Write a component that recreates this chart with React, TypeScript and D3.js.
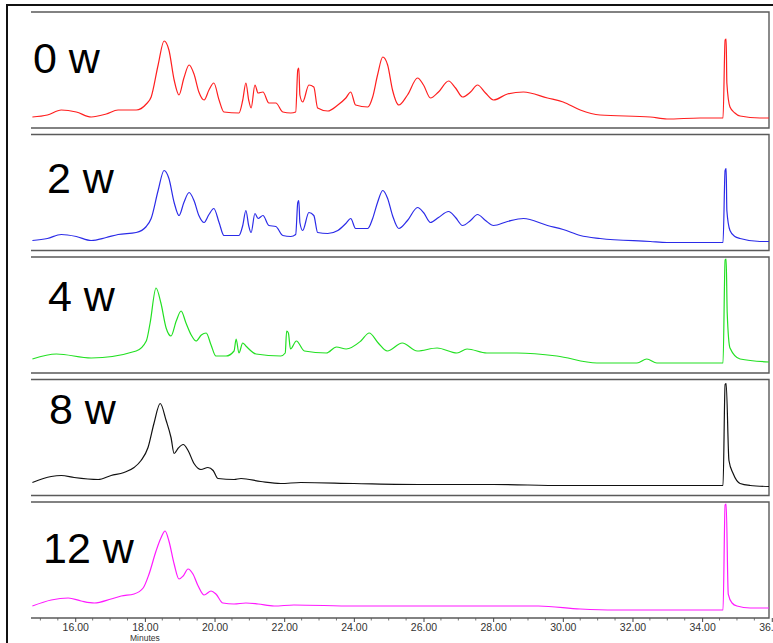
import React, { useEffect, useRef } from 'react';
import * as d3 from 'd3';

type Pt = [number, number];

// retention time (min), detector response (arbitrary units)
const week0: Pt[] = [
  [14.77, 11], [15.2, 13], [15.6, 18], [16.03, 16], [16.46, 11], [16.89, 14], [17.23, 18], [17.75, 18],
  [18.04, 24], [18.18, 31], [18.38, 63], [18.55, 87], [18.69, 78], [18.84, 48], [18.98, 33], [19.12, 50],
  [19.27, 63], [19.41, 54], [19.55, 36], [19.7, 28], [19.84, 38], [19.98, 45], [20.13, 28], [20.27, 16],
  [20.7, 15], [20.81, 28], [20.9, 45], [20.98, 28], [21.05, 20], [21.16, 43], [21.25, 35], [21.39, 36],
  [21.56, 25], [21.76, 25], [21.96, 16], [22.19, 15], [22.33, 16], [22.39, 58], [22.42, 60], [22.45, 33],
  [22.53, 26], [22.71, 43], [22.85, 41], [22.96, 20], [23.25, 17], [23.54, 23], [23.77, 30], [23.91, 36],
  [24.05, 23], [24.4, 21], [24.54, 31], [24.68, 53], [24.83, 71], [24.97, 63], [25.11, 38], [25.29, 23],
  [25.54, 33], [25.83, 50], [26.0, 43], [26.2, 30], [26.43, 36], [26.72, 47], [26.92, 40], [27.12, 31],
  [27.35, 36], [27.55, 43], [27.78, 35], [28.01, 28], [28.41, 34], [28.87, 36], [29.56, 30], [30.01, 26],
  [30.5, 18], [31.07, 13], [32.51, 11], [32.99, 9], [33.94, 10], [34.6, 10], [34.66, 88], [34.69, 89],
  [34.71, 45], [34.8, 21], [34.94, 15], [35.09, 12], [35.66, 10], [35.92, 10],
];

const week2: Pt[] = [
  [14.77, 10], [15.2, 12], [15.6, 16], [16.03, 14], [16.46, 10], [16.89, 13], [17.23, 16], [17.75, 18],
  [18.04, 24], [18.18, 32], [18.38, 60], [18.55, 80], [18.69, 72], [18.84, 48], [18.98, 35], [19.12, 48],
  [19.27, 58], [19.41, 50], [19.55, 35], [19.7, 28], [19.84, 36], [19.98, 42], [20.13, 28], [20.27, 15],
  [20.7, 15], [20.81, 25], [20.9, 40], [20.98, 25], [21.05, 18], [21.16, 37], [21.25, 32], [21.39, 35],
  [21.56, 25], [21.76, 24], [21.96, 15], [22.19, 14], [22.33, 16], [22.39, 48], [22.42, 50], [22.45, 28],
  [22.53, 20], [22.71, 38], [22.85, 35], [22.96, 18], [23.25, 17], [23.54, 20], [23.77, 27], [23.91, 32],
  [24.05, 22], [24.4, 22], [24.54, 32], [24.68, 48], [24.83, 60], [24.97, 52], [25.11, 35], [25.29, 22],
  [25.54, 30], [25.83, 43], [26.0, 38], [26.2, 28], [26.43, 33], [26.72, 39], [26.92, 33], [27.12, 25],
  [27.35, 30], [27.55, 36], [27.78, 30], [28.01, 25], [28.41, 29], [28.87, 32], [29.56, 25], [30.01, 21],
  [30.5, 15], [31.07, 12], [32.51, 9], [32.99, 8], [33.94, 8], [34.6, 8], [34.66, 80], [34.69, 82],
  [34.71, 40], [34.8, 20], [34.94, 14], [35.09, 12], [35.66, 9], [35.92, 9],
];

const week4: Pt[] = [
  [14.77, 14], [15.46, 19], [16.46, 15], [17.75, 22], [18.04, 32], [18.15, 50], [18.32, 85], [18.46, 70],
  [18.61, 45], [18.75, 37], [18.9, 52], [19.04, 62], [19.18, 50], [19.33, 38], [19.47, 32], [19.62, 38],
  [19.76, 40], [19.9, 28], [20.04, 17], [20.33, 17], [20.56, 22], [20.62, 34], [20.7, 20], [20.81, 30],
  [20.9, 27], [21.19, 19], [21.9, 17], [22.03, 20], [22.07, 42], [22.12, 40], [22.18, 24], [22.35, 32],
  [22.58, 22], [23.21, 20], [23.5, 26], [23.78, 24], [24.2, 32], [24.44, 40], [24.7, 30], [24.96, 22],
  [25.39, 30], [25.82, 22], [26.39, 25], [26.96, 20], [27.25, 24], [27.82, 20], [28.68, 20], [29.83, 17],
  [30.98, 10], [32.13, 10], [32.41, 14], [32.7, 10], [34.6, 10], [34.66, 113], [34.69, 114], [34.72, 60],
  [34.8, 25], [35.09, 14], [35.92, 11],
];

const week8: Pt[] = [
  [14.77, 13], [15.31, 19], [15.6, 20], [15.97, 18], [16.66, 16], [17.03, 20], [17.4, 23], [17.69, 28],
  [17.89, 35], [18.09, 48], [18.26, 72], [18.44, 92], [18.61, 75], [18.75, 58], [18.84, 42], [18.95, 47],
  [19.1, 51], [19.24, 45], [19.41, 32], [19.61, 26], [19.81, 28], [19.96, 25], [20.1, 17], [20.56, 16],
  [20.76, 17], [21.33, 14], [21.9, 12], [22.48, 13], [24.0, 12], [26.0, 11], [28.0, 11], [30.0, 10],
  [32.0, 10], [34.6, 10], [34.66, 111], [34.69, 112], [34.77, 35], [34.89, 22], [35.09, 12], [35.38, 10],
  [35.92, 9],
];

const week12: Pt[] = [
  [14.77, 12], [15.31, 18], [15.8, 20], [16.17, 17], [16.55, 15], [17.03, 19], [17.32, 22], [17.69, 24],
  [17.95, 30], [18.12, 44], [18.32, 67], [18.46, 80], [18.58, 87], [18.69, 77], [18.84, 54], [18.98, 39],
  [19.1, 42], [19.24, 49], [19.38, 44], [19.53, 32], [19.7, 23], [19.9, 27], [20.04, 24], [20.24, 15],
  [20.56, 14], [20.9, 15], [21.25, 14], [21.71, 12], [22.28, 13], [24.0, 12], [26.0, 12], [28.0, 12],
  [29.3, 12], [30.5, 9], [31.5, 8], [33.0, 8], [34.6, 8], [34.66, 113], [34.69, 114], [34.75, 24],
  [34.86, 15], [35.0, 12], [35.38, 10], [35.92, 10],
];

const traces = [week0, week2, week4, week8, week12];
const sampleLabels = ['0 w', '2 w', '4 w', '8 w', '12 w'];
const traceColors = ['#ff1f1f', '#2b2be8', '#22e022', '#111111', '#ff1aff'];
const tickValues = [16, 18, 20, 22, 24, 26, 28, 30, 32, 34, 36];

// label placement inside each panel
const labelX = [33, 47, 48, 49, 43];
const labelDy = [61, 58, 54, 44, 61];

const App = () => {
  const ref = useRef<SVGSVGElement>(null);

  useEffect(() => {
    const svg = d3.select(ref.current);
    svg.selectAll('*').remove();

    const left = 31;
    const right = 769;
    const panelTop = 12;
    const panelStep = 122.5;
    const panelH = 116;

    const x = d3.scaleLinear().domain([14.73, 35.92]).range([left, right]);

    // outer frame
    svg.append('rect')
      .attr('x', 7).attr('y', 5)
      .attr('width', 800).attr('height', 700)
      .attr('fill', 'none')
      .attr('stroke', '#111')
      .attr('stroke-width', 2);

    traces.forEach((data, i) => {
      const top = panelTop + i * panelStep;
      const bottom = top + panelH;
      const y = d3.scaleLinear().domain([0, panelH]).range([bottom, top]);
      const g = svg.append('g');

      g.append('clipPath').attr('id', `clip${i}`)
        .append('rect')
        .attr('x', left).attr('y', top)
        .attr('width', right - left).attr('height', panelH);

      // panel border: top, right, bottom
      g.append('path')
        .attr('d', `M${left},${top}H${right}V${bottom}H${left}`)
        .attr('fill', 'none')
        .attr('stroke', '#5a5a5a')
        .attr('stroke-width', 1.4);

      const line = d3.line<Pt>()
        .x(d => x(d[0]))
        .y(d => y(d[1]))
        .curve(d3.curveMonotoneX);

      g.append('path')
        .attr('d', line(data))
        .attr('clip-path', `url(#clip${i})`)
        .attr('fill', 'none')
        .attr('stroke', traceColors[i])
        .attr('stroke-width', 1.2);

      g.append('text')
        .attr('x', labelX[i])
        .attr('y', top + labelDy[i])
        .attr('font-family', '"Liberation Sans", Arial, sans-serif')
        .attr('font-size', 43)
        .attr('fill', '#000')
        .text(sampleLabels[i]);
    });

    const axisY = panelTop + 4 * panelStep + panelH;

    // minor ticks
    const minor = d3.range(15, 36, 0.5).filter(v => v % 2 !== 0);
    svg.append('g')
      .selectAll('line')
      .data(minor)
      .enter()
      .append('line')
      .attr('x1', d => x(d)).attr('x2', d => x(d))
      .attr('y1', axisY).attr('y2', axisY + 2.5)
      .attr('stroke', '#555')
      .attr('stroke-width', 0.8);

    const axis = svg.append('g')
      .attr('transform', `translate(0,${axisY})`)
      .call(d3.axisBottom(x).tickValues(tickValues).tickFormat(d3.format('.2f')).tickSize(4).tickPadding(2));
    axis.select('.domain').remove();
    axis.selectAll('line').attr('stroke', '#444');
    axis.selectAll('text')
      .attr('font-family', '"Liberation Sans", Arial, sans-serif')
      .attr('font-size', 10.5)
      .attr('fill', '#333');

    svg.append('text')
      .attr('x', x(18))
      .attr('y', 641)
      .attr('text-anchor', 'middle')
      .attr('font-family', '"Liberation Sans", Arial, sans-serif')
      .attr('font-size', 8.5)
      .attr('fill', '#333')
      .text('Minutes');
  }, []);

  return (
    <svg
      ref={ref}
      width={773}
      height={643}
      style={{ position: 'absolute', left: 0, top: 0, background: '#fff' }}
    />
  );
};

export default App;
